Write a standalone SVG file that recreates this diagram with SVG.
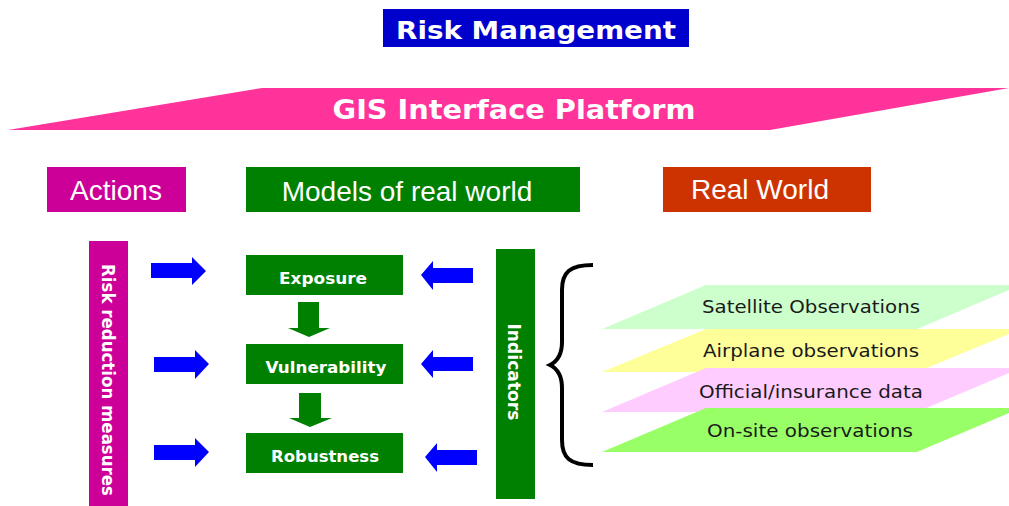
<svg xmlns="http://www.w3.org/2000/svg" width="1009" height="506" viewBox="0 0 1009 506">
<style>
.hdr{font-family:"Liberation Sans",Arial,sans-serif;font-size:28px;fill:#fff;text-anchor:middle}
.bold{font-family:"DejaVu Sans",Verdana,sans-serif;font-weight:bold;fill:#fff;text-anchor:middle}
.layer{font-family:"DejaVu Sans",Verdana,sans-serif;font-size:17px;fill:#1a1a1a;text-anchor:middle}
.blue{fill:#0000FF}
.garrow{fill:#008000}
.gbox{fill:#008000}
</style>
<rect width="1009" height="506" fill="#fff"/>
<g id="risk-management">
<rect x="383" y="9" width="306" height="38" fill="#0000CC"/>
<text class="bold" x="536" y="39" font-size="25" textLength="280" lengthAdjust="spacingAndGlyphs">Risk Management</text>
</g>
<g id="gis-platform">
<polygon points="8,130 262,88 1009,88 770,130" fill="#FF3399"/>
<text class="bold" x="514" y="119" font-size="26" textLength="363" lengthAdjust="spacingAndGlyphs">GIS Interface Platform</text>
</g>
<g id="actions">
<rect x="47" y="167" width="139" height="45" fill="#CC0099"/>
<text class="hdr" x="116" y="200">Actions</text>
</g>
<g id="models">
<rect x="246" y="167" width="334" height="45" fill="#008000"/>
<text class="hdr" x="407" y="201">Models of real world</text>
</g>
<g id="real-world">
<rect x="663" y="167" width="208" height="45" fill="#CC3300"/>
<text class="hdr" x="760" y="199">Real World</text>
</g>
<g id="risk-reduction">
<rect x="89" y="241" width="39" height="265" fill="#CC0099"/>
<text class="bold" font-size="17" transform="translate(102,380) rotate(90)" textLength="232" lengthAdjust="spacingAndGlyphs">Risk reduction measures</text>
</g>
<g id="exposure">
<rect class="gbox" x="246" y="255" width="157" height="40"/>
<text class="bold" x="323" y="284" font-size="16" textLength="88" lengthAdjust="spacingAndGlyphs">Exposure</text>
</g>
<g id="vulnerability">
<rect class="gbox" x="246" y="344" width="157" height="40"/>
<text class="bold" x="326" y="373" font-size="16" textLength="121" lengthAdjust="spacingAndGlyphs">Vulnerability</text>
</g>
<g id="robustness">
<rect class="gbox" x="246" y="433" width="157" height="40"/>
<text class="bold" x="325" y="462" font-size="16" textLength="108" lengthAdjust="spacingAndGlyphs">Robustness</text>
</g>
<g id="indicators">
<rect x="496" y="249" width="39" height="250" fill="#008000"/>
<text class="bold" font-size="18" transform="translate(508,372) rotate(90)" textLength="97" lengthAdjust="spacingAndGlyphs">Indicators</text>
</g>
<g id="layers">
<g id="satellite">
<polygon points="602,329 706,285 1021,285 917,329" fill="#CCFFCC"/>
<text class="layer" x="811" y="313" textLength="218" lengthAdjust="spacingAndGlyphs">Satellite Observations</text>
</g>
<g id="airplane">
<polygon points="602,372 706,329 1021,329 917,372" fill="#FFFF99"/>
<text class="layer" x="811" y="357" textLength="216" lengthAdjust="spacingAndGlyphs">Airplane observations</text>
</g>
<g id="official">
<polygon points="602,412 706,368 1021,368 917,412" fill="#FFCCFF"/>
<text class="layer" x="811" y="398" textLength="224" lengthAdjust="spacingAndGlyphs">Official/insurance data</text>
</g>
<g id="onsite">
<polygon points="602,452 706,408 1021,408 917,452" fill="#99FF66"/>
<text class="layer" x="810" y="437" textLength="206" lengthAdjust="spacingAndGlyphs">On-site observations</text>
</g>
</g>
<g id="connectors">
<polygon class="blue" points="151,263 192,263 192,257 206,271 192,285 192,278 151,278"/>
<polygon class="blue" points="154,357 195,357 195,350 209,364 195,379 195,372 154,372"/>
<polygon class="blue" points="154,445 195,445 195,438 209,452 195,467 195,460 154,460"/>
<polygon class="blue" points="473,268 433,268 433,261 421,275 433,290 433,283 473,283"/>
<polygon class="blue" points="473,357 433,357 433,350 421,364 433,378 433,371 473,371"/>
<polygon class="blue" points="477,450 437,450 437,443 425,457 437,472 437,465 477,465"/>
<polygon class="garrow" points="298,302 319,302 319,328 330,328 309,337 288,328 298,328"/>
<polygon class="garrow" points="299,393 321,393 321,418 332,418 310,427 289,418 299,418"/>
<path d="M593,265 C570,265 562,272 562,290 L562,342 C562,356 556,362 550,365 C556,368 562,374 562,388 L562,440 C562,458 570,465 593,465" fill="none" stroke="#000" stroke-width="4"/>
</g>
</svg>
